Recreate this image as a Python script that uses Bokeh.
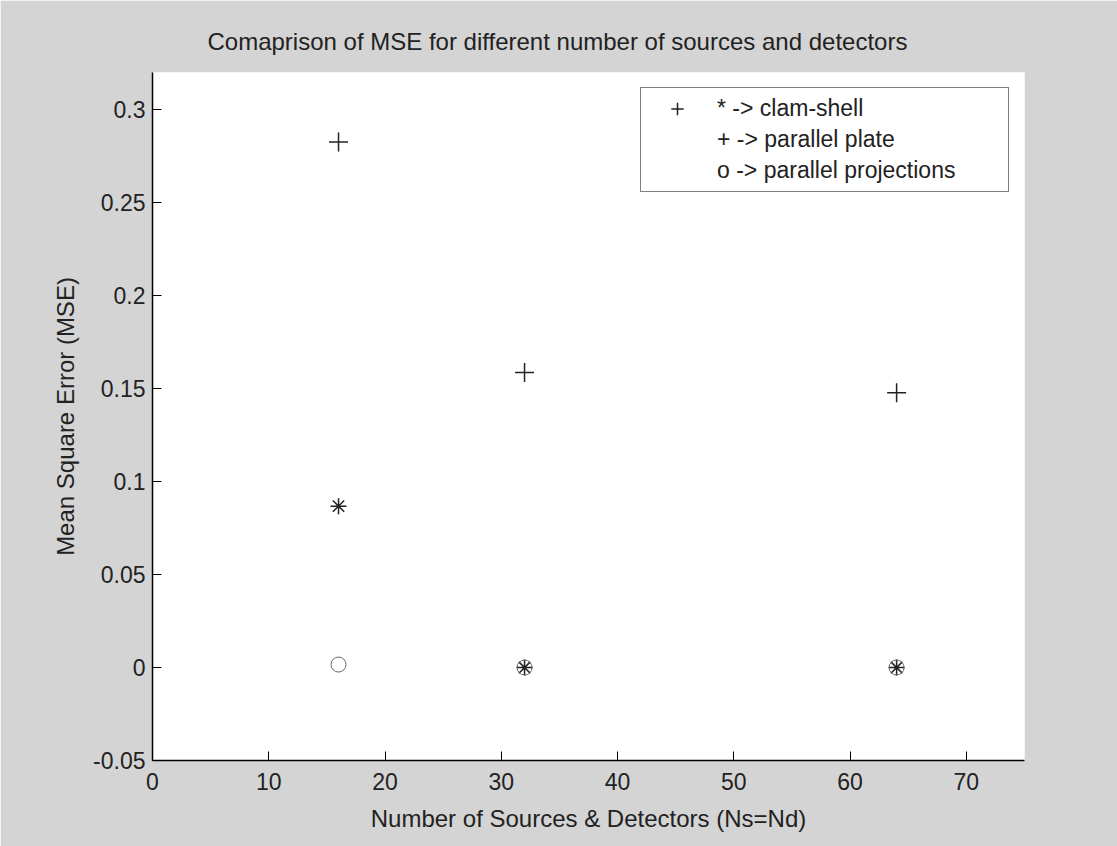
from bokeh.plotting import figure
from bokeh.models import FixedTicker, Legend, LegendItem, Range1d
from bokeh.embed import file_html
from bokeh.resources import INLINE

# Data
n_sd = [16, 32, 64]
mse_parallel_plate = [0.2826, 0.1586, 0.1478]      # '+'
mse_clam_shell = [0.0868, 0.0, 0.0]                 # '*'
mse_parallel_proj = [0.0016, 0.0, 0.0]              # 'o'

x_ticks = [0, 10, 20, 30, 40, 50, 60, 70]
y_ticks = [-0.05, 0, 0.05, 0.1, 0.15, 0.2, 0.25, 0.3]
y_tick_labels = ["-0.05", "0", "0.05", "0.1", "0.15", "0.2", "0.25", "0.3"]

title_text = "Comaprison of MSE for different number of sources and detectors"
x_label = "Number of Sources & Detectors (Ns=Nd)"
y_label = "Mean Square Error (MSE)"
legend_labels = ["* -> clam-shell", "+ -> parallel plate", "o -> parallel projections"]

FONT = "Liberation Sans"

p = figure(width=1117, height=846, output_backend="svg", toolbar_location=None,
           x_range=Range1d(0, 75), y_range=Range1d(-0.05, 0.32),
           min_border_left=152, min_border_right=93, min_border_top=72, min_border_bottom=86)
p.background_fill_color = "white"
p.border_fill_color = "#d4d4d4"
p.outline_line_color = None
p.grid.visible = False

p.title.text = title_text
p.title.text_font = FONT
p.title.text_font_size = "24px"
p.title.text_font_style = "normal"
p.title.text_color = "#222222"
p.title.align = "left"
p.title.offset = 55
p.title.standoff = 36

for ax in (p.xaxis[0], p.yaxis[0]):
    ax.axis_line_color = "black"
    ax.axis_line_width = 1.5
    ax.major_tick_line_color = "black"
    ax.major_tick_in = 9
    ax.major_tick_out = 0
    ax.minor_tick_line_color = None
    ax.major_label_text_font = FONT
    ax.major_label_text_font_size = "23px"
    ax.major_label_text_color = "#222222"
    ax.axis_label_text_font = FONT
    ax.axis_label_text_font_size = "24px"
    ax.axis_label_text_font_style = "normal"
    ax.axis_label_text_color = "#222222"

p.xaxis.ticker = FixedTicker(ticks=x_ticks)
p.yaxis.ticker = FixedTicker(ticks=y_ticks)
p.yaxis.major_label_overrides = {t: s for t, s in zip(y_ticks, y_tick_labels)}
p.xaxis.axis_label = x_label
p.yaxis.axis_label = y_label
p.xaxis.major_label_standoff = 12
p.yaxis.major_label_standoff = 7
p.xaxis.axis_label_standoff = 12
p.yaxis.axis_label_standoff = 11

r_plus = p.scatter(n_sd, mse_parallel_plate, marker="cross", size=19,
                   line_color="#222222", line_width=1.5)
r_star = p.scatter(n_sd, mse_clam_shell, marker="asterisk", size=16,
                   line_color="#222222", line_width=1.5)
r_circ = p.scatter(n_sd, mse_parallel_proj, marker="circle", size=15,
                   fill_color=None, line_color="#666666", line_width=1)
r_blank1 = p.scatter([n_sd[0]], [mse_parallel_proj[0]], marker="circle", size=1, alpha=0)
r_blank2 = p.scatter([n_sd[0]], [mse_parallel_proj[0]], marker="circle", size=1, alpha=0)

legend = Legend(items=[
    LegendItem(label=legend_labels[0], renderers=[r_plus]),
    LegendItem(label=legend_labels[1], renderers=[r_blank1]),
    LegendItem(label=legend_labels[2], renderers=[r_blank2]),
], location="top_right")
legend.margin = 15
legend.padding = 5
legend.spacing = 0
legend.glyph_width = 62
legend.glyph_height = 31
legend.label_height = 31
legend.label_width = 286
legend.label_standoff = 9
legend.label_text_font = FONT
legend.label_text_font_size = "23px"
legend.label_text_color = "#222222"
legend.border_line_color = "black"
legend.border_line_width = 1.2
legend.background_fill_color = "white"
legend.background_fill_alpha = 1.0
p.add_layout(legend, "center")

open("out.html", "w").write(file_html(p, INLINE))
